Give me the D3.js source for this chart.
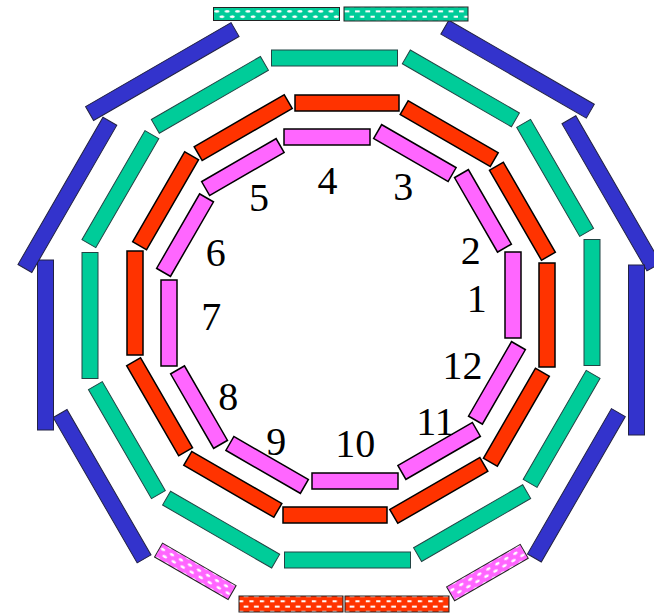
<!DOCTYPE html>
<html>
<head>
<meta charset="utf-8">
<script src="https://d3js.org/d3.v7.min.js"></script>
<style>
  html, body { margin: 0; padding: 0; background: white; overflow: hidden; }
  svg { display: block; }
  text { font-family: "Liberation Serif", serif; fill: black; }
</style>
</head>
<body>
<div id="my_dataviz"></div>
<script>
// every bar sits in one of 12 sectors (30 degrees each, counter clockwise from the right)
const sectorNames = ["1", "2", "3", "4", "5", "6", "7", "8", "9", "10", "11", "12"];
const allSectors = [1, 2, 3, 4, 5, 6, 7, 8, 9, 10, 11, 12];

// inner rings are regular, one radius / shift / length for the lot
const pinkRadius = 172, pinkShift = 14, pinkLength = 86;
const redRadius = 206, redShift = -6, redLength = 104;
const greenRadius = 251, greenShift = 6.5, greenLength = 126;

// outer ring read bar by bar
const blueSectors = [8, 7, 6, 5, 3, 12, 2, 1];
const blueRadius = [295.5, 295.5, 294, 295, 296, 292, 292, 295.5];
const blueShift = [34, 36, 38, 36, -33, -35, -35, -41];
const blueLength = [168, 170, 170, 168, 168, 168, 170, 170];

// hatched bars on the outer ring
const hatchSectors = [4, 4, 10, 10, 9, 11];
const hatchRadius = [295, 295, 295, 295, 300, 301.5];
const hatchShift = [64.5, -65, -50, 56, 5, -5];
const hatchLength = [126, 124, 104, 104, 85, 85];
const hatchThick = [13, 14, 16, 16, 16, 16];
const hatchFill = ["dotGreen", "dashGreen", "dashRed", "dashRed", "dotPink", "dotPink"];

// sector numbers inside the rings
const labelAngle = [4.2, 24, 63, 96, 126.5, 156, 183.5, 218, 244, 276, 310, 335];
const labelRadius = [136, 142, 137, 129, 138, 137, 130, 143, 148, 136, 147, 134];

const pink = "#ff66ff", red = "#ff3300", green = "#00cc99", blue = "#3333cc";

var width = 654, height = 613;
var centre = { x: 341, y: 309 };

var svg = d3.select("#my_dataviz")
  .append("svg")
  .attr("width", width)
  .attr("height", height);

var sectorAngle = d3.scaleLinear().domain([1, 13]).range([0, 360]);
var scale = d3.scaleLinear().domain([0, 300]).range([0, 300]);

// Patterns, drawn in the bar's own frame so they turn with it
var defs = svg.append("defs");

defs.append("filter").attr("id", "soft")
  .append("feGaussianBlur").attr("stdDeviation", 0.6);

function dotPattern(id, colour) {
  var p = defs.append("pattern").attr("id", id)
    .attr("patternUnits", "userSpaceOnUse")
    .attr("width", 10.6).attr("height", 10.4);
  p.append("rect").attr("width", 10.6).attr("height", 10.4).attr("fill", colour);
  var dots = p.append("g").attr("filter", "url(#soft)");
  [[2.6, 2.6], [7.9, 7.8]].forEach(d => {
    dots.append("ellipse")
      .attr("cx", d[0]).attr("cy", d[1])
      .attr("rx", 1.3).attr("ry", 2.6)
      .attr("fill", "white");
  });
}

function dashPattern(id, colour) {
  var p = defs.append("pattern").attr("id", id)
    .attr("patternUnits", "userSpaceOnUse")
    .attr("width", 10.6).attr("height", 10.4);
  p.append("rect").attr("width", 10.6).attr("height", 10.4).attr("fill", colour);
  [[1.6, 1], [6.9, 6.2]].forEach(d => {
    p.append("rect")
      .attr("x", d[0]).attr("y", d[1])
      .attr("width", 2).attr("height", 4.8)
      .attr("fill", "white");
  });
}

dotPattern("dotGreen", green);
dotPattern("dotPink", pink);
dashPattern("dashGreen", green);
dashPattern("dashRed", red);

// Build the bars
function regularRing(radius, shift, length, fill, stroke, strokeWidth) {
  return allSectors.map(s => ({ sector: s, radius: radius, shift: shift, length: length, thick: 16, fill: fill, stroke: stroke, strokeWidth: strokeWidth }));
}

var blueBars = blueSectors.map((s, i) => ({
  sector: s, radius: blueRadius[i], shift: blueShift[i], length: blueLength[i],
  thick: 16, fill: blue, stroke: "#222244", strokeWidth: 1
}));

var hatchBars = hatchSectors.map((s, i) => ({
  sector: s, radius: hatchRadius[i], shift: hatchShift[i], length: hatchLength[i],
  thick: hatchThick[i], fill: "url(#" + hatchFill[i] + ")", stroke: "#222222", strokeWidth: 1
}));

var bars = blueBars.concat(hatchBars,
  regularRing(greenRadius, greenShift, greenLength, green, "#224444", 1),
  regularRing(redRadius, redShift, redLength, red, "black", 1.5),
  regularRing(pinkRadius, pinkShift, pinkLength, pink, "black", 1.5));

var g = svg.append("g")
  .attr("transform", "translate(" + centre.x + "," + centre.y + ")");

g.selectAll("rect.bar")
  .data(bars)
  .enter()
  .append("rect")
    .attr("class", "bar")
    .attr("transform", d => "rotate(" + (-sectorAngle(d.sector)) + ") translate(" + scale(d.radius) + "," + (-scale(d.shift)) + ")")
    .attr("x", d => -d.thick / 2)
    .attr("y", d => -scale(d.length) / 2)
    .attr("width", d => d.thick)
    .attr("height", d => scale(d.length))
    .attr("fill", d => d.fill)
    .attr("stroke", d => d.stroke)
    .attr("stroke-width", d => d.strokeWidth);

// Sector numbers
g.selectAll("text.sector")
  .data(sectorNames)
  .enter()
  .append("text")
    .attr("class", "sector")
    .attr("x", (d, i) => scale(labelRadius[i]) * Math.cos(labelAngle[i] * Math.PI / 180))
    .attr("y", (d, i) => -scale(labelRadius[i]) * Math.sin(labelAngle[i] * Math.PI / 180))
    .attr("dy", "0.33em")
    .attr("text-anchor", "middle")
    .style("font-size", "40px")
    .text(d => d);
</script>
</body>
</html>
